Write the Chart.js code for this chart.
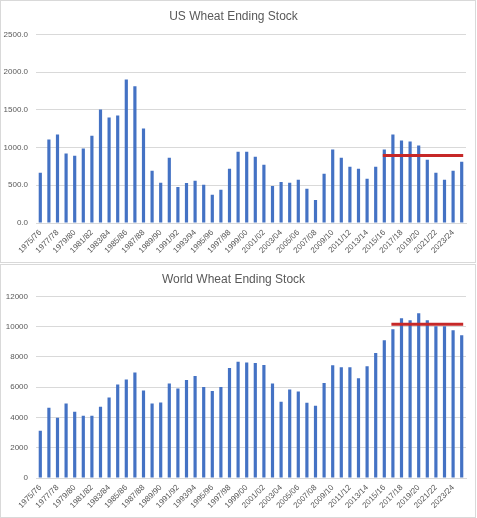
<!DOCTYPE html>
<html>
<head>
<meta charset="utf-8">
<script src="https://cdn.jsdelivr.net/npm/chart.js@4/dist/chart.umd.min.js"></script>
<style>
  html, body { margin: 0; padding: 0; background: #ffffff; }
  body { width: 477px; height: 518px; position: relative; overflow: hidden; }
  .box { position: absolute; left: 0; width: 476px; border: 1px solid #d9d9d9; box-sizing: border-box; background: #fff; }
  #boxTop { top: 0; height: 263px; }
  #boxBottom { top: 264px; height: 254px; }
  canvas { display: block; }
</style>
</head>
<body>
<div class="box" id="boxTop"><canvas id="usChart" width="474" height="261"></canvas></div>
<div class="box" id="boxBottom"><canvas id="worldChart" width="474" height="252"></canvas></div>
<script>
// ---- data ----
const seasons = [
  "1975/76","1976/77","1977/78","1978/79","1979/80","1980/81","1981/82","1982/83","1983/84","1984/85",
  "1985/86","1986/87","1987/88","1988/89","1989/90","1990/91","1991/92","1992/93","1993/94","1994/95",
  "1995/96","1996/97","1997/98","1998/99","1999/00","2000/01","2001/02","2002/03","2003/04","2004/05",
  "2005/06","2006/07","2007/08","2008/09","2009/10","2010/11","2011/12","2012/13","2013/14","2014/15",
  "2015/16","2016/17","2017/18","2018/19","2019/20","2020/21","2021/22","2022/23","2023/24","2024/25"
];
const usStocks = [
  665,1106,1172,920,893,989,1158,1506,1397,1424,
  1903,1812,1252,694,534,865,478,531,561,506,
  373,440,720,945,946,877,773,492,545,535,
  572,453,306,654,973,864,745,718,587,747,
  973,1172,1092,1079,1026,840,667,573,693,812
];
const worldStocks = [
  3122,4649,3985,4915,4384,4118,4118,4716,5314,6177,
  6509,6974,5779,4915,4982,6244,5911,6477,6740,6010,
  5745,6010,7275,7675,7640,7600,7475,6244,5044,5844,
  5711,4978,4778,6280,7451,7319,7319,6593,7385,8264,
  9099,9824,10549,10418,10879,10418,10022,10022,9758,9429
];
const usRefLevel = 895;       // red reference line, US chart
const usRefStart = "2015/16";
const worldRefLevel = 10160;  // red reference line, World chart
const worldRefStart = "2016/17";
const usTicks = { max: 2500, step: 500, decimals: 1 };
const worldTicks = { max: 12000, step: 2000, decimals: 0 };

// ---- styling ----
const BAR = '#4472C4';
const RED = '#C62828';
const GRID = '#d9d9d9';
const TXT = '#595959';
const FONT = "'Liberation Sans', Arial, sans-serif";

function refLine(level, startLabel) {
  const s = seasons.indexOf(startLabel);
  return seasons.map((_, i) => i >= s ? level : null);
}

function makeChart(id, title, values, refData, tk, titleTop, titleBottom) {
  return new Chart(document.getElementById(id), {
    type: 'bar',
    data: {
      labels: seasons,
      datasets: [
        {
          type: 'line',
          data: refData,
          borderColor: RED,
          borderWidth: 3,
          pointRadius: 0,
          borderCapStyle: 'square',
          fill: false,
          spanGaps: false,
          order: 0
        },
        {
          type: 'bar',
          data: values,
          backgroundColor: BAR,
          categoryPercentage: 1.0,
          barPercentage: 0.37,
          order: 1
        }
      ]
    },
    options: {
      responsive: false,
      animation: false,
      devicePixelRatio: 1,
      layout: { padding: { left: 0, right: 9, top: 0, bottom: 0 } },
      plugins: {
        legend: { display: false },
        tooltip: { enabled: false },
        title: {
          display: true,
          text: title,
          color: TXT,
          font: { family: FONT, size: 12, weight: 'normal' },
          padding: { top: titleTop, bottom: titleBottom }
        }
      },
      scales: {
        x: {
          grid: { display: false, drawTicks: false },
          border: { display: true, color: GRID, width: 1 },
          ticks: {
            autoSkip: false,
            maxRotation: 45,
            minRotation: 45,
            padding: 5,
            color: TXT,
            font: { family: FONT, size: 8 },
            callback: function (v, i) { return i % 2 === 0 ? seasons[i] : ''; }
          },
          afterFit: function (scale) { scale.height = 39; }
        },
        y: {
          min: 0,
          max: tk.max,
          grid: { color: GRID, drawTicks: false },
          border: { display: false },
          ticks: {
            stepSize: tk.step,
            padding: 8,
            color: TXT,
            font: { family: FONT, size: 8 },
            callback: function (v) { return Number(v).toFixed(tk.decimals); }
          },
          afterFit: function (scale) { scale.width = 35; }
        }
      }
    }
  });
}

makeChart('usChart', 'US Wheat Ending Stock', usStocks, refLine(usRefLevel, usRefStart), usTicks, 8, 11);
makeChart('worldChart', 'World Wheat Ending Stock', worldStocks, refLine(worldRefLevel, worldRefStart), worldTicks, 7, 10);
</script>
</body>
</html>
